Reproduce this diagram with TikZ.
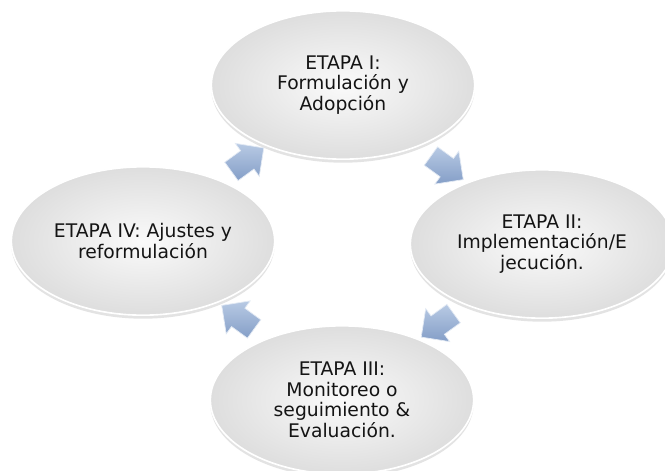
\documentclass[tikz,border=0pt]{standalone}
\usepackage{fontspec}
\setmainfont{DejaVu Sans}
\usepackage{tikz}
\usetikzlibrary{positioning, calc, shapes.geometric, shapes.arrows, shadows}
\definecolor{flechaclara}{RGB}{184,202,228}
\definecolor{flechaoscura}{RGB}{132,158,199}
\definecolor{textoetapa}{RGB}{20,20,20}

\begin{document}
\begin{tikzpicture}[x=0.03cm, y=-0.03cm,
    etapa/.style={ellipse, minimum width=7.9cm, minimum height=4.45cm,
      inner color=gray!4, outer color=gray!26, draw=white, line width=1.4pt,
      drop shadow={opacity=0.22, shadow xshift=0pt, shadow yshift=-3pt},
      align=center, text=textoetapa, font=\fontsize{16}{17.5}\selectfont},
    flecha/.style={single arrow, minimum height=1.2cm, inner xsep=0pt,
      inner ysep=0.33cm, single arrow head extend=0.27cm,
      top color=flechaclara, bottom color=flechaoscura,
      draw=white!60!flechaclara, line width=0.6pt}]
    \clip (0,0) rectangle (665,470);
    \fill[white] (0,0) rectangle (665,470);
    % the four stages
    \node[etapa] (e1) at (343,85) {ETAPA I:\\Formulación y\\Adopción};
    \node[etapa] (e2) at (542,244) {ETAPA II:\\Implementación/E\\jecución.};
    \node[etapa] (e3) at (342,400) {ETAPA III:\\Monitoreo o\\seguimiento \&\\Evaluación.};
    \node[etapa] (e4) at (143,241) {ETAPA IV: Ajustes y\\reformulación};
    % arrows between stages
    \foreach \a/\b/\r in {e4/e1/36, e1/e2/-36, e2/e3/-144, e3/e4/144}
        \node[flecha, rotate=\r] (f\a) at ($(\a)!0.5!(\b)$) {};
\end{tikzpicture}
\end{document}
